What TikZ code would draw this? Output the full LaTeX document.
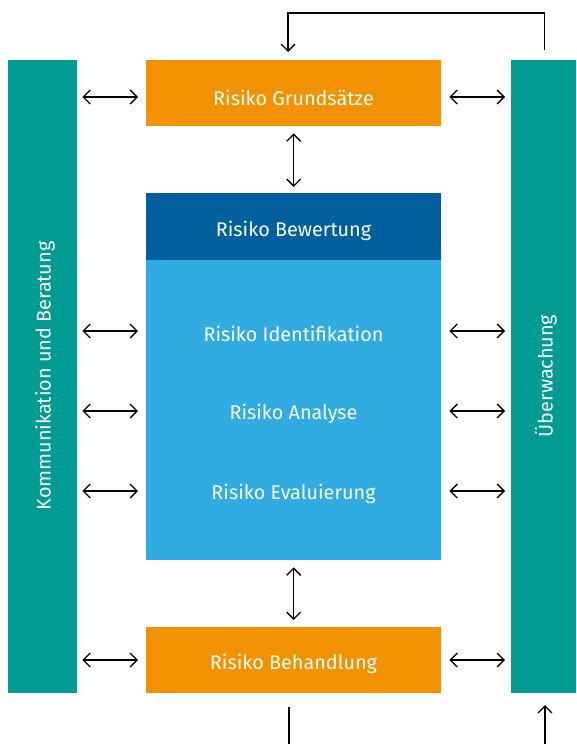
\documentclass[tikz,border=0pt]{standalone}
\usepackage{fontspec}
\setmainfont{Fira Sans}
\usetikzlibrary{arrows.meta}
\definecolor{teal1}{HTML}{009B93}
\definecolor{orange1}{HTML}{F39200}
\definecolor{dblue}{HTML}{005F9C}
\definecolor{lblue}{HTML}{31ACE2}
\tikzset{
  box/.style={draw=none, inner sep=0pt, anchor=north west},
  lbl/.style={text=white, font=\fontsize{19.8}{23}\selectfont},
  dbl/.style={draw=black, line width=1.3pt, {Straight Barb[length=7pt,width=14pt]}-{Straight Barb[length=7pt,width=14pt]}},
  sgl/.style={draw=black, line width=1.3pt, -{Straight Barb[length=7pt,width=14pt]}},
  ln/.style={draw=black, line width=1.3pt},
}
\begin{document}
\begin{tikzpicture}[x=1pt,y=-1pt]
\useasboundingbox (0,0) rectangle (576,744);
% bars
\node[box, fill=teal1, minimum width=69pt, minimum height=633pt] (kb) at (8,60) {};
\node[box, fill=teal1, minimum width=65pt, minimum height=633pt] (ue) at (511,60) {};
\node[lbl, rotate=90] (kbt) at (45,376) {Kommunikation und Beratung};
\node[lbl, rotate=90] (uet) at (546,376) {Überwachung};
% boxes
\node[box, fill=orange1, minimum width=295pt, minimum height=66pt] (rg) at (146,60) {};
\node[lbl] (rgt) at (293.5,97.5) {Risiko Grundsätze};
\node[box, fill=dblue, minimum width=295pt, minimum height=67pt] (bew) at (146,193) {};
\node[lbl] (bewt) at (293.5,230.5) {Risiko Bewertung};
\node[box, fill=lblue, minimum width=295pt, minimum height=300pt] (main) at (146,260) {};
\node[lbl] (id) at (293.5,333.5) {Risiko Identifikation};
\node[lbl] (an) at (293.5,413.5) {Risiko Analyse};
\node[lbl] (ev) at (293.5,493.5) {Risiko Evaluierung};
\node[box, fill=orange1, minimum width=295pt, minimum height=66pt] (bh) at (146,627) {};
\node[lbl] (bht) at (293.5,663.5) {Risiko Behandlung};
% horizontal arrows
\coordinate (yrg) at (0,97);
\coordinate (ybh) at (0,660);
\coordinate (yid) at (0,331);
\coordinate (yan) at (0,411);
\coordinate (yev) at (0,491);
\foreach \n/\y in {rg/yrg,bh/ybh,main/yid,main/yan,main/yev} {
  \draw[dbl] ([xshift=5pt]kb.east |- \y) -- ([xshift=-8pt]\n.west |- \y);
  \draw[dbl] ([xshift=8pt]\n.east |- \y) -- ([xshift=-6pt]ue.west |- \y);
}
% vertical arrows
\draw[dbl] ([yshift=-7pt]rg.south) -- ([yshift=6pt]bew.north);
\draw[dbl] ([yshift=-7pt]main.south) -- ([yshift=7pt]bh.north);
% top loop
\coordinate (t1) at (544.5,50);
\coordinate (t2) at (544.5,13);
\coordinate (t3) at (288,13);
\coordinate (t4) at (288,52);
\draw[sgl] (t1) -- (t2) -- (t3) -- (t4);
% bottom lines
\coordinate (b1) at (289,707);
\coordinate (b2) at (289,744);
\draw[ln] (b1) -- (b2);
\coordinate (b3) at (545,744);
\coordinate (b4) at (545,705);
\draw[sgl] (b3) -- (b4);
\end{tikzpicture}
\end{document}
